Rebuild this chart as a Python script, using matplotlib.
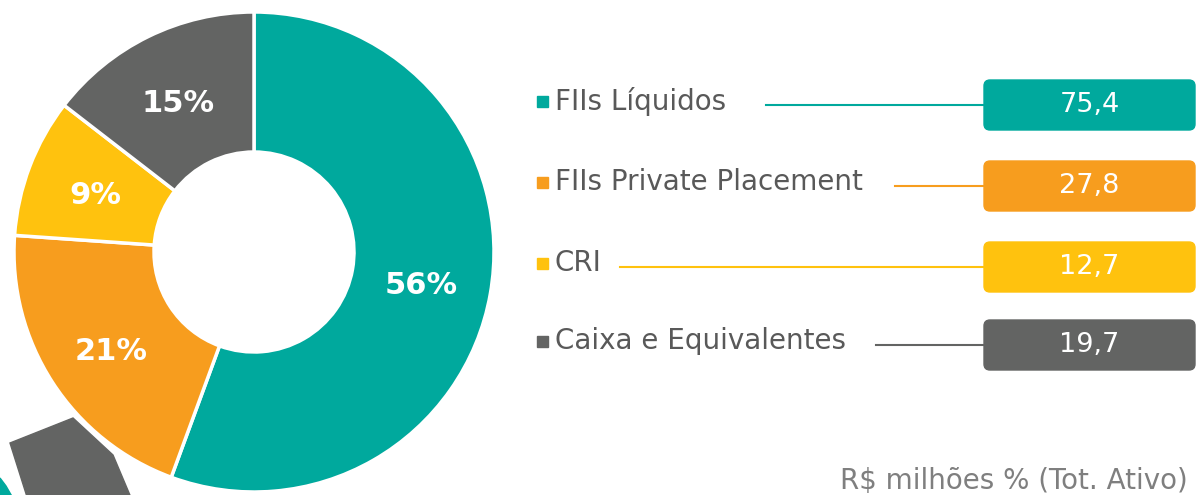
import matplotlib
matplotlib.use("Agg")
import matplotlib.pyplot as plt
from matplotlib.patches import FancyBboxPatch, Polygon

# data
labels = ["FIIs Líquidos", "FIIs Private Placement", "CRI", "Caixa e Equivalentes"]
values = [75.4, 27.8, 12.7, 19.7]
pct_labels = ["56%", "21%", "9%", "15%"]
value_labels = ["75,4", "27,8", "12,7", "19,7"]
colors = ["#00A99D", "#F79D1E", "#FFC20E", "#636463"]
footer = "R$ milhões % (Tot. Ativo)"

W, H = 1197, 495
fig = plt.figure(figsize=(W / 100, H / 100), dpi=100)
ax = fig.add_axes([0, 0, 1, 1])


def py(y):
    return H - y


# slide decorations bottom-left
ax.add_patch(Polygon([(10, py(443)), (73, py(418)), (113, py(455)),
                      (132, py(500)), (28, py(500))], closed=True,
                     color="#636463", zorder=1))
ax.add_patch(Polygon([(0, py(478)), (6, py(486)), (14, py(500)), (0, py(500))],
                     closed=True, color="#00A99D", zorder=1))

# donut
cx, cy, r = 254, py(252), 240
wedges, _ = ax.pie(values, colors=colors, startangle=90, counterclock=False,
                   center=(cx, cy), radius=r, frame=True,
                   wedgeprops=dict(width=r - 100, edgecolor="white", linewidth=2.5))
for w in wedges:
    w.set_zorder(2)
ax.set_xlim(0, W)
ax.set_ylim(0, H)
ax.set_aspect("equal")
ax.axis("off")

pct_pos = [(421, 286), (111, 351), (95, 195), (178, 103)]
for (x, y), t in zip(pct_pos, pct_labels):
    ax.text(x, py(y), t, color="white", fontsize=22, fontweight="bold",
            ha="center", va="center", zorder=3)

# legend rows
row_y = [101, 182, 263, 341]
line_start = [766, 895, 620, 876]
box_x0, box_x1 = 984, 1195
for lab, val, c, y, xs in zip(labels, value_labels, colors, row_y, line_start):
    ax.add_patch(plt.Rectangle((537, py(y) - 6), 11, 11, color=c, zorder=3))
    ax.text(555, py(y), lab, color="#595959", fontsize=20, ha="left",
            va="center", zorder=3)
    ax.plot([xs, box_x0], [py(y + 4), py(y + 4)], color=c, lw=1.5, zorder=2)
    ax.add_patch(FancyBboxPatch((box_x0 + 6, py(y + 4) - 19), box_x1 - box_x0 - 12, 38,
                                boxstyle="round,pad=6", color=c, zorder=3))
    ax.text((box_x0 + box_x1) / 2, py(y + 4), val, color="white", fontsize=19.5,
            ha="center", va="center", zorder=4)

ax.text(1188, py(481), footer, color="#7F7F7F", fontsize=20, ha="right",
        va="center", zorder=3)

fig.savefig("out.png", dpi=100)
